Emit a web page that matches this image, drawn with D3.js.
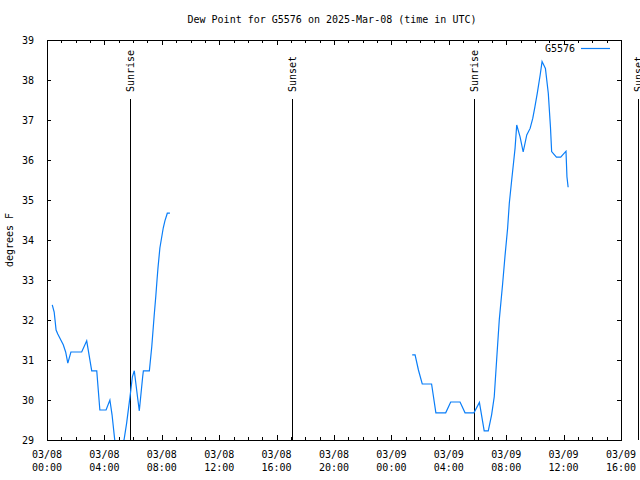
<!DOCTYPE html>
<html>
<head>
<meta charset="utf-8">
<script src="https://cdn.jsdelivr.net/npm/d3@7"></script>
<style>
  html, body { margin: 0; padding: 0; background: #fff; }
  svg text { font-family: "DejaVu Sans Mono", "Liberation Mono", monospace; font-size: 10px; fill: #000; }
</style>
</head>
<body>
<svg id="chart" width="640" height="480"></svg>
<script>
// ---- data ----
const title = "Dew Point for G5576 on 2025-Mar-08 (time in UTC)";
const yLabel = "degrees F";
const seriesName = "G5576";
const xDomain = ["2025-03-08T00:00", "2025-03-09T16:00"];
const yDomain = [29, 39];
const yTicks = [29, 30, 31, 32, 33, 34, 35, 36, 37, 38, 39];

const times1 = ["2025-03-08T00:22","2025-03-08T00:30","2025-03-08T00:38","2025-03-08T00:45","2025-03-08T01:08","2025-03-08T01:18","2025-03-08T01:27","2025-03-08T01:40","2025-03-08T02:25","2025-03-08T02:46","2025-03-08T03:07","2025-03-08T03:28","2025-03-08T03:41","2025-03-08T04:07","2025-03-08T04:23","2025-03-08T04:32","2025-03-08T04:45","2025-03-08T05:05","2025-03-08T05:22","2025-03-08T05:33","2025-03-08T05:47","2025-03-08T05:57","2025-03-08T06:05","2025-03-08T06:19","2025-03-08T06:26","2025-03-08T06:40","2025-03-08T06:43","2025-03-08T07:08","2025-03-08T07:18","2025-03-08T07:28","2025-03-08T07:35","2025-03-08T07:40","2025-03-08T07:44","2025-03-08T07:52","2025-03-08T08:06","2025-03-08T08:13","2025-03-08T08:23","2025-03-08T08:34"];
const values1 = [32.38,32.2,31.75,31.65,31.38,31.2,30.92,31.2,31.2,31.48,30.73,30.73,29.75,29.75,30.0,29.63,28.9,28.6,29.0,29.42,30.08,30.58,30.73,30.05,29.73,30.58,30.73,30.73,31.33,32.1,32.6,33.0,33.3,33.8,34.3,34.48,34.67,34.67];

const times2 = ["2025-03-09T01:27","2025-03-09T01:39","2025-03-09T01:53","2025-03-09T02:09","2025-03-09T02:48","2025-03-09T03:06","2025-03-09T03:47","2025-03-09T04:08","2025-03-09T04:47","2025-03-09T05:08","2025-03-09T05:45","2025-03-09T06:08","2025-03-09T06:28","2025-03-09T06:45","2025-03-09T06:59","2025-03-09T07:10","2025-03-09T07:20","2025-03-09T07:31","2025-03-09T07:45","2025-03-09T07:55","2025-03-09T08:06","2025-03-09T08:13","2025-03-09T08:23","2025-03-09T08:31","2025-03-09T08:37","2025-03-09T08:44","2025-03-09T08:58","2025-03-09T09:11","2025-03-09T09:26","2025-03-09T09:40","2025-03-09T09:51","2025-03-09T10:00","2025-03-09T10:10","2025-03-09T10:22","2025-03-09T10:30","2025-03-09T10:44","2025-03-09T10:56","2025-03-09T11:05","2025-03-09T11:10","2025-03-09T11:30","2025-03-09T11:48","2025-03-09T12:10","2025-03-09T12:14","2025-03-09T12:19"];
const values2 = [31.13,31.13,30.75,30.4,30.4,29.68,29.68,29.95,29.95,29.68,29.68,29.94,29.23,29.23,29.63,30.08,31.0,32.0,32.9,33.6,34.3,34.92,35.5,35.95,36.29,36.875,36.58,36.2,36.625,36.79,37.04,37.33,37.67,38.125,38.46,38.29,37.67,36.83,36.21,36.07,36.07,36.22,35.58,35.32];

const eventTimes = ["2025-03-08T05:47","2025-03-08T17:05","2025-03-09T05:47","2025-03-09T17:11"];
const eventLabels = ["Sunrise","Sunset","Sunrise","Sunset"];

// ---- chart ----
const parse = d3.utcParse("%Y-%m-%dT%H:%M");
const m = { left: 47, right: 621, top: 40, bottom: 440 };
const svg = d3.select("#chart");

const x = d3.scaleUtc().domain(xDomain.map(parse)).range([m.left, m.right]);
const y = d3.scaleLinear().domain(yDomain).range([m.bottom, m.top]);

svg.append("defs").append("clipPath").attr("id", "plotclip")
  .append("rect").attr("x", m.left).attr("y", m.top)
  .attr("width", m.right - m.left).attr("height", m.bottom - m.top);

// title
svg.append("text").attr("x", 332).attr("y", 23).attr("text-anchor", "middle").text(title);

// y-axis label
svg.append("text").attr("transform", "translate(13,240) rotate(-90)")
  .attr("text-anchor", "middle").text(yLabel);

// x axes (minor hourly, major 4-hourly)
const hourTicks = d3.utcHour.every(1).range(x.domain()[0], d3.utcHour.offset(x.domain()[1], 1));
const majorTicks = d3.utcHour.every(4).range(x.domain()[0], d3.utcHour.offset(x.domain()[1], 1));

function axisStyle(g) {
  g.select(".domain").remove();
  g.selectAll("line").attr("stroke", "#000").attr("stroke-width", 1).attr("shape-rendering", "crispEdges");
}
svg.append("g").attr("transform", `translate(0,${m.bottom})`)
  .call(d3.axisBottom(x).tickValues(hourTicks).tickSize(-3).tickFormat(""))
  .call(axisStyle);
svg.append("g").attr("transform", `translate(0,${m.top})`)
  .call(d3.axisTop(x).tickValues(hourTicks).tickSize(-3).tickFormat(""))
  .call(axisStyle);
svg.append("g").attr("transform", `translate(0,${m.bottom})`)
  .call(d3.axisBottom(x).tickValues(majorTicks).tickSize(-5).tickFormat(""))
  .call(axisStyle);
svg.append("g").attr("transform", `translate(0,${m.top})`)
  .call(d3.axisTop(x).tickValues(majorTicks).tickSize(-5).tickFormat(""))
  .call(axisStyle);

const fmtDate = d3.utcFormat("%m/%d"), fmtTime = d3.utcFormat("%H:%M");
const xl = svg.append("g").selectAll("text").data(majorTicks).join("text")
  .attr("text-anchor", "middle");
xl.append("tspan").attr("x", d => x(d)).attr("y", 458).text(fmtDate);
xl.append("tspan").attr("x", d => x(d)).attr("y", 471).text(fmtTime);

// y axes
svg.append("g").attr("transform", `translate(${m.left},0)`)
  .call(d3.axisLeft(y).tickValues(yTicks).tickSize(-4).tickPadding(13).tickFormat(d3.format("d")))
  .call(axisStyle)
  .selectAll("text").style("font-family", "DejaVu Sans Mono, monospace").style("font-size", "10px");
svg.append("g").attr("transform", `translate(${m.right},0)`)
  .call(d3.axisRight(y).tickValues(yTicks).tickSize(-4).tickFormat(""))
  .call(axisStyle);

// frame
svg.append("rect").attr("x", m.left + 0.5).attr("y", m.top + 0.5)
  .attr("width", m.right - m.left).attr("height", m.bottom - m.top)
  .attr("fill", "none").attr("stroke", "#000").attr("stroke-width", 1);

// sunrise / sunset lines
eventTimes.forEach((t, i) => {
  const ex = Math.round(x(parse(t))) + 0.5;
  svg.append("line").attr("x1", ex).attr("x2", ex).attr("y1", 99).attr("y2", m.bottom)
    .attr("stroke", "#000").attr("stroke-width", 1);
  svg.append("text").attr("transform", `translate(${ex + 3.5},92) rotate(-90)`)
    .attr("text-anchor", "start").text(eventLabels[i]);
});

// data lines
const line = d3.line().x(d => x(d[0])).y(d => y(d[1]));
const segs = [
  d3.zip(times1.map(parse), values1),
  d3.zip(times2.map(parse), values2)
];
const lineColor = "#0a7ef8";
svg.append("g").attr("clip-path", "url(#plotclip)").selectAll("path").data(segs).join("path")
  .attr("d", line).attr("fill", "none").attr("stroke", lineColor).attr("stroke-width", 1.2);

// legend
svg.append("text").attr("x", 575).attr("y", 52).attr("text-anchor", "end").text(seriesName);
svg.append("line").attr("x1", 581).attr("x2", 610).attr("y1", 48.5).attr("y2", 48.5)
  .attr("stroke", lineColor).attr("stroke-width", 1.2);
</script>
</body>
</html>
